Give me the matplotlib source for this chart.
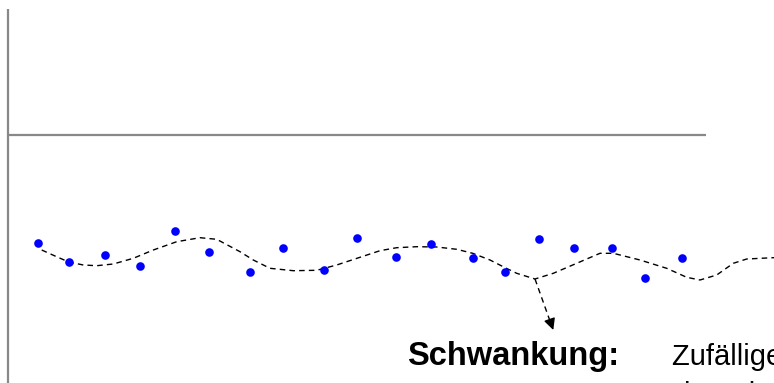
import matplotlib
matplotlib.use("Agg")
import matplotlib.pyplot as plt

# Observed data points (x position, value)
point_x = [38.3, 68.7, 104.7, 139.7, 175.3, 209.0, 249.5, 283.0, 324.3, 357.0,
           396.3, 431.3, 472.7, 504.7, 539.3, 574.3, 612.0, 645.0, 681.7]
point_y = [140.3, 121.0, 128.0, 117.3, 152.3, 130.7, 111.3, 134.7, 113.3, 145.3,
           126.0, 139.3, 125.0, 111.5, 144.3, 134.7, 134.7, 105.0, 125.0]

# Smooth (dashed) curve
curve_x = [41.7, 55, 68.7, 83.3, 96.7, 113.3, 133.3, 153.3, 176.7, 200.0, 216.7,
           240.0, 253.3, 270.0, 293.3, 316.7, 336.7, 360.0, 380.0, 396.7, 416.7,
           436.7, 456.7, 472.7, 490.0, 504.7, 516.7, 535.0, 553.3, 576.7, 600.0,
           613.3, 640.0, 666.7, 686.7, 700.0, 716.7, 733.3, 746.7, 773.0, 790.0]
curve_y = [133.0, 127.0, 121.0, 118.0, 117.3, 119.0, 124.7, 133.0, 141.3, 145.3, 143.7,
           131.3, 123.0, 114.7, 112.3, 112.7, 118.0, 125.7, 132.3, 135.3, 136.3,
           136.0, 133.7, 129.7, 123.0, 115.5, 109.7, 104.0, 109.7, 119.7, 129.7,
           129.7, 123.0, 114.7, 105.7, 103.0, 108.0, 119.7, 124.0, 125.3, 125.3]

W, H = 774, 383
fig = plt.figure(figsize=(W / 100, H / 100), dpi=100)
ax = fig.add_axes([0, 0, 1, 1])
ax.set_xlim(0, W)
ax.set_ylim(0, H)
ax.axis("off")

gray = "#888888"
ax.plot([7.5, 7.5], [0, H - 9], color=gray, lw=1.6, solid_capstyle="butt")
ax.plot([7.5, 706], [248, 248], color=gray, lw=1.6, solid_capstyle="butt")

ax.plot(curve_x, curve_y, color="black", lw=1.0, ls=(0, (4, 3)))
ax.plot(point_x, point_y, "o", color="#0000FF", markersize=6.2, markeredgewidth=0)

# annotation arrow
ax.plot([535, 550], [104, 62], color="black", lw=1.0, ls=(0, (4, 3)))
ax.annotate("", xy=(553.3, 53), xytext=(549.8, 63),
            arrowprops=dict(arrowstyle="-|>", color="black", lw=1.0,
                            mutation_scale=17, shrinkA=0, shrinkB=0))

ax.text(407, 18, "Schwankung:", fontsize=23.5, fontweight="bold",
        family="Liberation Sans", va="baseline", ha="left")
ax.text(672, 18, "Zufällige Abweichungen", fontsize=21,
        family="Liberation Sans", va="baseline", ha="left")
ax.text(684, -20, "in Zeitreihen", fontsize=21,
        family="Liberation Sans", va="baseline", ha="left")

fig.savefig("out.png", dpi=100)
